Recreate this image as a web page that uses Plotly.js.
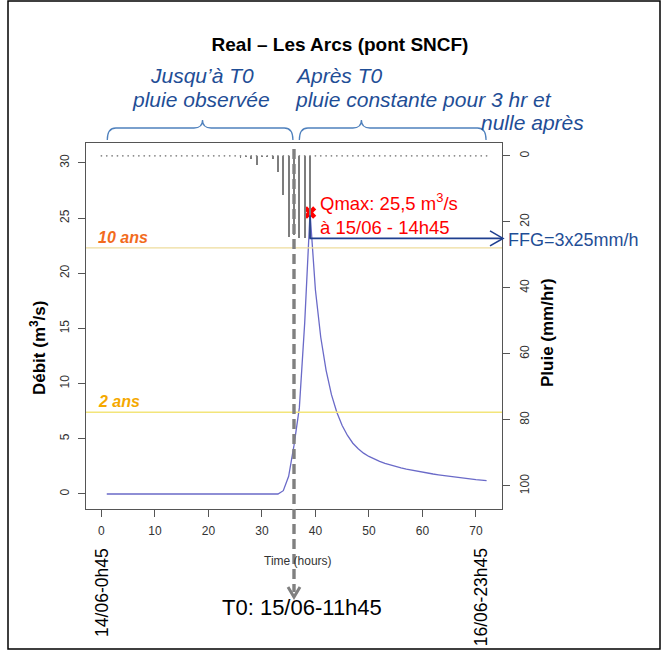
<!DOCTYPE html>
<html><head><meta charset="utf-8">
<script src="https://cdn.plot.ly/plotly-3.0.1.min.js"></script>
<style>html,body{margin:0;padding:0;background:#fff}</style>
</head><body><div id="chart" style="width:671px;height:658px"></div>
<script>
// ---------------- DATA ----------------
const flowHours = [1,2,3,4,5,6,7,8,9,10,11,12,13,14,15,16,17,18,19,20,21,22,23,24,25,26,27,28,29,30,31,32,33,34,35,36,37,38,39,40,41,42,43,44,45,46,47,48,49,50,51,52,53,54,55,56,57,58,59,60,61,62,63,64,65,66,67,68,69,70,71,72];
const flow = [0,0,0,0,0,0,0,0,0,0,0,0,0,0,0,0,0,0,0,0,0,0,0,0,0,0,0,0,0,0,0,0,0,
  0.3,1.6,4.4,7.8,15.5,25.5,18.5,14.2,11.2,9.0,7.4,6.2,5.3,4.6,4.1,3.7,3.4,3.15,2.95,2.77,2.62,2.48,2.36,2.25,2.15,2.06,1.97,1.89,1.81,1.74,1.67,1.60,1.54,1.48,1.42,1.36,1.31,1.26,1.21];
const rainHours = [0,1,2,3,4,5,6,7,8,9,10,11,12,13,14,15,16,17,18,19,20,21,22,23,24,25,26,27,28,29,30,31,32,33,34,35,36,37,38,39,40,41,42,43,44,45,46,47,48,49,50,51,52,53,54,55,56,57,58,59,60,61,62,63,64,65,66,67,68,69,70,71,72];
const rain = [0,0,0,0,0,0,0,0,0,0,0,0,0,0,0,0,0,0,0,0,0,0,0,0,0,0,
  0.7,0.3,1.0,2.7,0.3,0.3,1.0,5.0,12.0,24.5,24.0,25,25,25,
  0,0,0,0,0,0,0,0,0,0,0,0,0,0,0,0,0,0,0,0,0,0,0,0,0,0,0,0,0,0,0,0,0];
const xTicks = [0,10,20,30,40,50,60,70];
const yTicks = [0,5,10,15,20,25,30];
const y2Ticks = [0,20,40,60,80,100];
const returnPeriodLabels = ['10 ans','2 ans'];
const returnPeriodFlows = [22.3, 7.4];
const t0Hour = 36;
const t0Label = 'T0: 15/06-11h45';
const qmaxHour = 39;
const qmax = 25.5;
const qmaxLabel = 'Qmax: 25,5 m<sup>3</sup>/s<br>à 15/06 - 14h45';
const ffgRain = 25;
const ffgLabel = 'FFG=3x25mm/h';
const dateLabels = ['14/06-0h45','16/06-23h45'];
const dateLabelHours = [0, 71];

// ---------------- LAYOUT HELPERS ----------------
const W = 671, H = 658;
const M = {l:86, r:169, t:143, b:149};
const PW = W - M.l - M.r, PH = H - M.t - M.b;
const xr = [-2.88, 74.88];
const yr = [-1.36, 31.8];
const y2r = [107, -3.9];
const px2x = p => (p - M.l) / PW;
const py2y = p => (H - M.b - p) / PH;
const hour2paper = h => (h - xr[0]) / (xr[1] - xr[0]);
const FONT = 'Liberation Sans, Arial, sans-serif';
const blue = '#1f4e96';
const braceBlue = '#4f81bd';

const traces = [
  {type:'bar', x:rainHours, y:rain, yaxis:'y2', width:0.36,
   marker:{color:'#7d7d7d', line:{width:0}}, hoverinfo:'skip'},
  {type:'scatter', mode:'markers', x:rainHours, y:rainHours.map(() => 0), yaxis:'y2',
   marker:{size:1.8, color:'#858585'}, hoverinfo:'skip'},
  {type:'scatter', mode:'lines', x:flowHours, y:flow,
   line:{color:'#6a6ac8', width:1.3}},
  {type:'scatter', mode:'markers', x:[qmaxHour], y:[qmax],
   marker:{symbol:'x', size:11, color:'#ff0000', line:{width:0}}}
];

const shapes = [];
const annotations = [];
// outer frame
shapes.push({type:'rect', xref:'paper', yref:'paper', x0:px2x(8), x1:px2x(660), y0:py2y(649), y1:py2y(1),
  line:{color:'#000', width:1.5}, fillcolor:'rgba(0,0,0,0)'});

const rpLineColors = ['#eedc9c', '#f3e57a'];
const rpTextColors = ['#f26b1d', '#f5a800'];
returnPeriodFlows.forEach((q, i) => {
  shapes.push({type:'line', xref:'paper', yref:'y', x0:0, x1:1, y0:q, y1:q,
    line:{color:rpLineColors[i], width:1.4}});
  annotations.push({xref:'paper', yref:'y', x:px2x(96), y:q, xanchor:'left', yanchor:'bottom',
    text:'<b><i>' + returnPeriodLabels[i] + '</i></b>', showarrow:false,
    font:{family:FONT, size:16, color:rpTextColors[i]}});
});

// T0 dashed line with arrow
shapes.push({type:'line', xref:'x', yref:'paper', x0:t0Hour, x1:t0Hour, y0:py2y(149), y1:py2y(592),
  line:{color:'#808080', width:3.4, dash:'10px,5px'}});
const dxh = 6 / PW * (xr[1] - xr[0]);
shapes.push({type:'path', xref:'x', yref:'paper',
  path:'M' + (t0Hour - dxh) + ',' + py2y(587) + ' L' + t0Hour + ',' + py2y(597) + ' L' + (t0Hour + dxh) + ',' + py2y(587),
  line:{color:'#808080', width:3}});
annotations.push({xref:'paper', yref:'paper', x:px2x(302), y:py2y(607), xanchor:'center', yanchor:'middle',
  text:t0Label, showarrow:false, font:{family:FONT, size:22, color:'#000'}});

// FFG elbow arrow
const xq = hour2paper(qmaxHour);
const tip = px2x(503);
const chevW = 13 / PW;
const chevH = 7.5 / PH * Math.abs(y2r[0] - y2r[1]);
shapes.push({type:'path', xref:'paper', yref:'y2',
  path:'M' + xq + ',' + (ffgRain - 7) + ' L' + xq + ',' + ffgRain + ' L' + tip + ',' + ffgRain,
  line:{color:'#1f3f8f', width:1.6}});
shapes.push({type:'path', xref:'paper', yref:'y2',
  path:'M' + (tip - chevW) + ',' + (ffgRain - chevH) + ' L' + tip + ',' + ffgRain + ' L' + (tip - chevW) + ',' + (ffgRain + chevH),
  line:{color:'#1f3f8f', width:1.6}});
annotations.push({xref:'paper', yref:'y2', x:px2x(506), y:ffgRain, xanchor:'left', yanchor:'middle', yshift:-2,
  text:ffgLabel, showarrow:false, font:{family:FONT, size:18, color:blue}});

// Qmax label
annotations.push({xref:'x', yref:'y', x:qmaxHour, y:qmax, xshift:8, yshift:-1, xanchor:'left', yanchor:'middle', align:'left',
  text:qmaxLabel, showarrow:false, font:{family:FONT, size:18.5, color:'#ff0000'}});

// braces
function brace(a, m, b) {
  const y0 = py2y(140), y1 = py2y(128), y2 = py2y(120);
  const d = 1.6;
  return 'M' + a + ',' + y0 + ' Q' + a + ',' + y1 + ' ' + (a + d) + ',' + y1 +
    ' L' + (m - d) + ',' + y1 + ' Q' + m + ',' + y1 + ' ' + m + ',' + y2 +
    ' Q' + m + ',' + y1 + ' ' + (m + d) + ',' + y1 +
    ' L' + (b - d) + ',' + y1 + ' Q' + b + ',' + y1 + ' ' + b + ',' + y0;
}
shapes.push({type:'path', xref:'x', yref:'paper', path:brace(1.1, 18.9, 35.8), line:{color:braceBlue, width:1.3}});
shapes.push({type:'path', xref:'x', yref:'paper', path:brace(37.0, 48.6, 71.9), line:{color:braceBlue, width:1.3}});

// top explanatory texts
const topFont = {family:FONT, size:21, color:blue};
[['<i>Jusqu’à T0</i>', 202, 76, 'center'],
 ['<i>pluie observée</i>', 201, 99, 'center'],
 ['<i>Après T0</i>', 293, 76, 'left'],
 ['<i>pluie constante pour 3 hr et</i>', 293, 99, 'left'],
 ['<i>nulle après</i>', 586, 122, 'right']].forEach(t => {
  annotations.push({xref:'paper', yref:'paper', x:px2x(t[1]), y:py2y(t[2]), xanchor:t[3], yanchor:'middle',
    text:t[0], showarrow:false, font:topFont});
});

// axis titles
annotations.push({xref:'paper', yref:'paper', x:px2x(38), y:py2y(348), xanchor:'center', yanchor:'middle', textangle:-90,
  text:'<b>Débit (m<sup>3</sup>/s)</b>', showarrow:false, font:{family:FONT, size:17, color:'#000'}});
annotations.push({xref:'paper', yref:'paper', x:px2x(547), y:py2y(333), xanchor:'center', yanchor:'middle', textangle:-90,
  text:'<b>Pluie (mm/hr)</b>', showarrow:false, font:{family:FONT, size:17, color:'#000'}});
annotations.push({xref:'paper', yref:'paper', x:px2x(298), y:py2y(561), xanchor:'center', yanchor:'middle',
  text:'Time (hours)', showarrow:false, font:{family:FONT, size:12, color:'#333'}});

// date labels
dateLabels.forEach((t, i) => {
  annotations.push({xref:'x', yref:'paper', x:dateLabelHours[i], y:py2y(546), xanchor:'center', yanchor:'top', textangle:-90,
    text:t, showarrow:false, font:{family:FONT, size:17.5, color:'#000'}});
});

const axisCommon = {showgrid:false, zeroline:false, ticks:'outside', ticklen:7, tickwidth:1, tickcolor:'#555',
  showline:true, linecolor:'#555', linewidth:1, tickfont:{family:FONT, size:12, color:'#333'}};

const layout = {
  width:W, height:H, margin:{l:M.l, r:M.r, t:M.t, b:M.b, pad:0},
  paper_bgcolor:'#fff', plot_bgcolor:'#fff', showlegend:false, bargap:0,
  font:{family:FONT},
  title:{text:'<b>Real – Les Arcs (pont SNCF)</b>', xref:'container', yref:'container', x:340/W, y:1 - 44/H,
    xanchor:'center', yanchor:'middle', font:{family:FONT, size:19, color:'#000'}},
  xaxis:Object.assign({}, axisCommon, {range:xr, tickvals:xTicks, mirror:true, ticklabelstandoff:4}),
  yaxis:Object.assign({}, axisCommon, {range:yr, tickvals:yTicks, tickangle:-90, ticklabelstandoff:4}),
  yaxis2:Object.assign({}, axisCommon, {range:y2r, tickvals:y2Ticks, overlaying:'y', side:'right', tickangle:-90, ticklabelstandoff:5}),
  shapes:shapes, annotations:annotations
};

Plotly.newPlot('chart', traces, layout, {displayModeBar:false, staticPlot:true});
</script></body></html>
